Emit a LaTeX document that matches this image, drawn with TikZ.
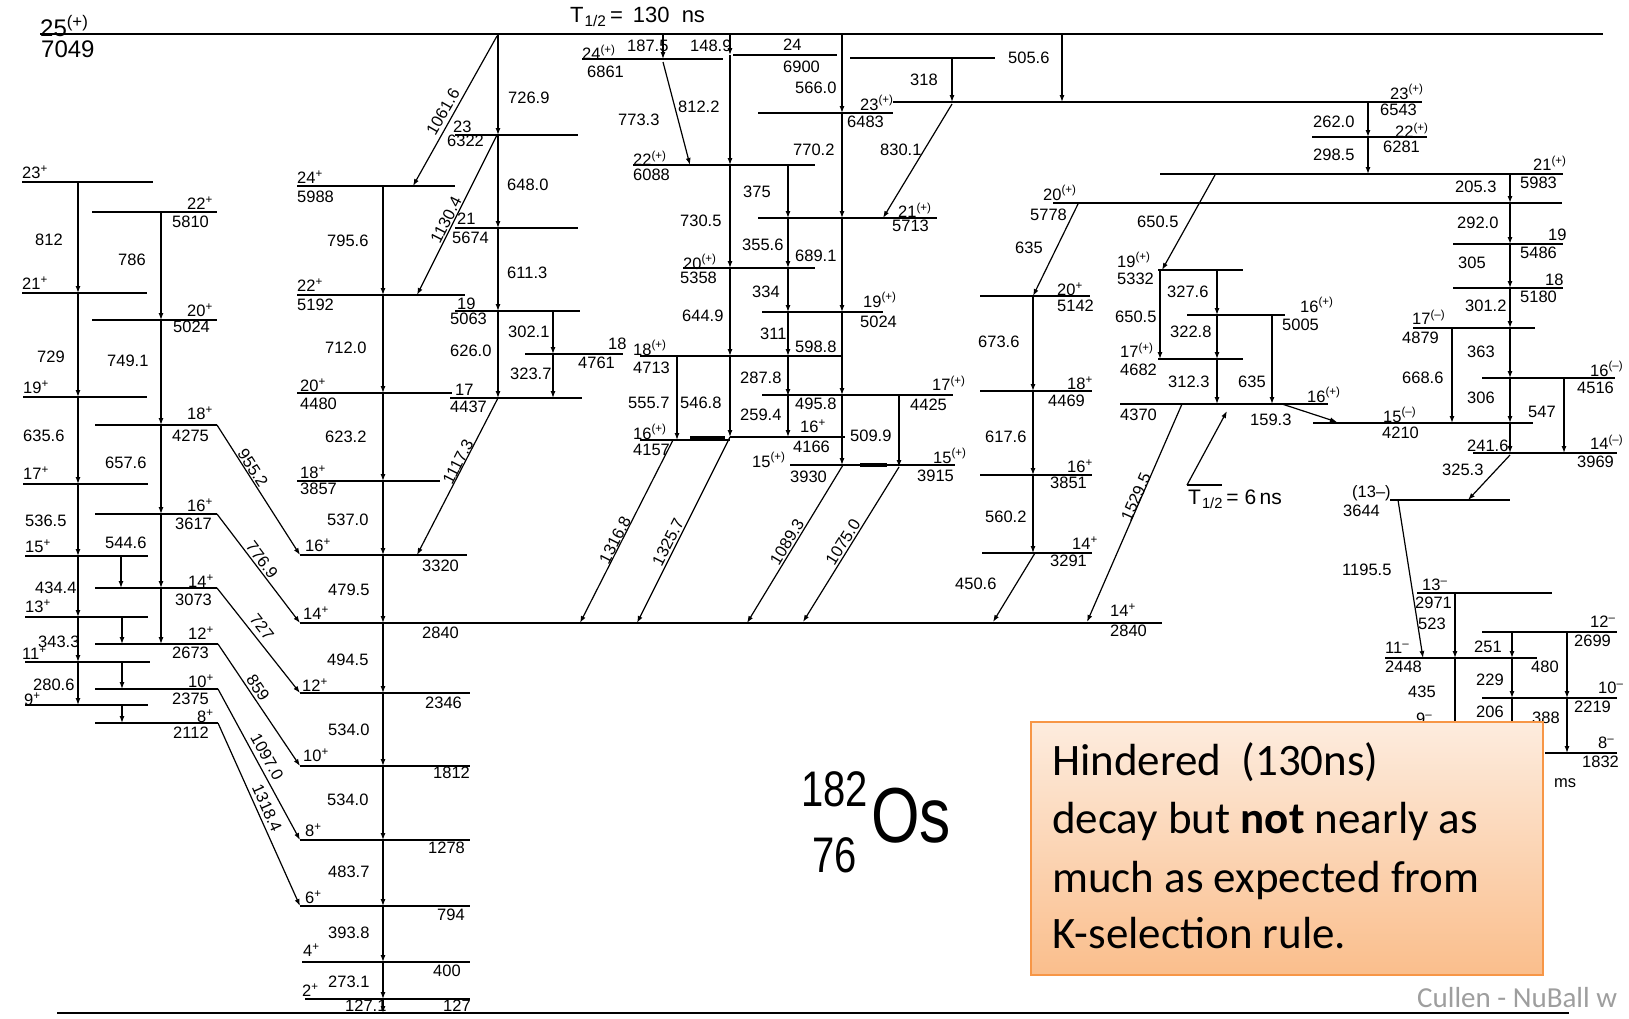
\documentclass[tikz,border=0pt]{standalone}
\usepackage{fontspec}
\setmainfont{Liberation Sans}
\newfontfamily\boxfont{Carlito}
\usetikzlibrary{arrows.meta}
\definecolor{boxtop}{RGB}{253,236,222}
\definecolor{boxbot}{RGB}{250,190,140}
\definecolor{boxline}{RGB}{247,150,70}
\newcounter{nc}
\newcommand\LV[3]{\draw[lvl] (#1,#3) -- (#2,#3);}
\newcommand\VT[3]{\draw[trn] (#1,#2) -- (#1,#3);}
\newcommand\DT[4]{\draw[trn] (#1,#2) -- (#3,#4);}
\newcommand\LB[3]{\stepcounter{nc}\node[lab] (n\arabic{nc}) at (#1,#2) {#3};}
\newcommand\RB[4]{\stepcounter{nc}\node[lab,anchor=center,rotate=#3] (n\arabic{nc}) at (#1,#2) {#4};}
\newcommand\upx[1]{\textsuperscript{#1}}
\tikzset{
  lvl/.style={line width=2pt},
  toplvl/.style={line width=2.6pt},
  trn/.style={line width=1.2pt,-{Latex[length=7pt,width=5pt]}},
  lab/.style={font=\fontsize{16.5}{18}\selectfont, inner sep=0pt, anchor=west},
  biglab/.style={font=\fontsize{24}{26}\selectfont, inner sep=0pt, anchor=west},
  boxtxt/.style={font=\boxfont\fontsize{45}{58}\selectfont, inner sep=0pt, anchor=base west},
}
\begin{document}
\begin{tikzpicture}[x=1pt,y=-1pt]
\useasboundingbox (0,0) rectangle (1629,1018);
\fill[white] (0,0) rectangle (1629,1018);

% ---------- top and ground levels
\draw[toplvl] (40,34) -- (1603,34);
\draw[toplvl] (57,1013) -- (1569,1013);
\node[biglab] (top1) at (40,26) {25\upx{(+)}};
\node[biglab] (top2) at (41,49) {7049};
\node[inner sep=0pt,anchor=west,font=\fontsize{22}{24}\selectfont] (thalf) at (570,17) {T\textsubscript{\kern1pt 1/2}\,=\ \,130\ \ ns};

% ---------- left odd band
\LV{22}{153}{182} \LV{22}{147}{293} \LV{23}{147}{397} \LV{23}{148}{484}
\LV{25}{148}{556} \LV{25}{148}{617} \LV{25}{150}{662} \LV{25}{148}{705}
\VT{78}{182}{293} \VT{78}{293}{397} \VT{78}{397}{484} \VT{78}{484}{556}
\VT{78}{556}{617} \VT{78}{617}{662} \VT{78}{662}{705}
% left even band
\LV{92}{217}{212} \LV{92}{217}{320} \LV{95}{217}{425} \LV{95}{217}{514}
\LV{95}{217}{588} \LV{95}{218}{644} \LV{95}{218}{689} \LV{95}{218}{723}
\VT{161}{212}{320} \VT{161}{320}{425} \VT{161}{425}{514} \VT{161}{514}{588} \VT{161}{588}{644}
\VT{121}{556}{588} \VT{122}{617}{644} \VT{122}{662}{689} \VT{122}{705}{723}
% diagonals to main band
\DT{217}{425}{300}{555} \DT{217}{514}{300}{623} \DT{217}{588}{300}{693}
\DT{218}{644}{300}{766} \DT{218}{689}{300}{840} \DT{218}{723}{300}{906}

\LB{22}{172}{23\upx{+}} \LB{35}{240}{812} \LB{22}{283}{21\upx{+}} \LB{37}{357}{729}
\LB{23}{387}{19\upx{+}} \LB{23}{436}{635.6} \LB{23}{473}{17\upx{+}} \LB{25}{521}{536.5}
\LB{25}{546}{15\upx{+}} \LB{35}{588}{434.4} \LB{25}{606}{13\upx{+}} \LB{38}{642}{343.3}
\LB{22}{653}{11\upx{+}} \LB{33}{685}{280.6} \LB{24}{699}{9\upx{+}}
\LB{187}{203}{22\upx{+}} \LB{172}{222}{5810} \LB{118}{260}{786}
\LB{187}{310}{20\upx{+}} \LB{173}{327}{5024} \LB{107}{361}{749.1}
\LB{187}{413}{18\upx{+}} \LB{172}{436}{4275} \LB{105}{463}{657.6}
\LB{187}{505}{16\upx{+}} \LB{175}{524}{3617} \LB{105}{543}{544.6}
\LB{188}{581}{14\upx{+}} \LB{175}{600}{3073}
\LB{188}{633}{12\upx{+}} \LB{172}{653}{2673}
\LB{188}{681}{10\upx{+}} \LB{172}{699}{2375}
\LB{197}{716}{8\upx{+}} \LB{173}{733}{2112}
\RB{253}{468}{-57}{955.2} \RB{262}{560}{-53}{776.9} \RB{262}{627}{-52}{727}
\RB{258}{688}{-56}{859} \RB{267}{757}{-61}{1097.0} \RB{267}{808}{-66}{1318.4}

% ---------- main ground band
\LV{297}{455}{186} \LV{297}{465}{295} \LV{297}{452}{393} \LV{297}{440}{481}
\LV{300}{467}{555} \LV{300}{1162}{623} \LV{300}{470}{693} \LV{300}{470}{766}
\LV{300}{470}{840} \LV{300}{470}{906} \LV{302}{470}{962} \LV{305}{470}{999}
\VT{383}{186}{295} \VT{383}{295}{393} \VT{383}{393}{481} \VT{383}{481}{555}
\VT{383}{555}{623} \VT{383}{623}{693} \VT{383}{693}{766} \VT{383}{766}{840}
\VT{383}{840}{906} \VT{383}{906}{962} \VT{383}{962}{999} \VT{383}{999}{1013}
\LB{297}{177}{24\upx{+}} \LB{297}{197}{5988} \LB{327}{241}{795.6}
\LB{297}{285}{22\upx{+}} \LB{297}{305}{5192} \LB{325}{348}{712.0}
\LB{300}{385}{20\upx{+}} \LB{300}{404}{4480} \LB{325}{437}{623.2}
\LB{300}{472}{18\upx{+}} \LB{300}{489}{3857} \LB{327}{520}{537.0}
\LB{305}{545}{16\upx{+}} \LB{422}{566}{3320} \LB{328}{590}{479.5}
\LB{303}{613}{14\upx{+}} \LB{422}{633}{2840} \LB{327}{660}{494.5}
\LB{302}{685}{12\upx{+}} \LB{425}{703}{2346} \LB{328}{730}{534.0}
\LB{303}{755}{10\upx{+}} \LB{433}{773}{1812} \LB{327}{800}{534.0}
\LB{305}{830}{8\upx{+}} \LB{428}{848}{1278} \LB{328}{872}{483.7}
\LB{305}{897}{6\upx{+}} \LB{437}{915}{794} \LB{328}{933}{393.8}
\LB{303}{950}{4\upx{+}} \LB{433}{971}{400} \LB{328}{982}{273.1}
\LB{302}{990}{2\upx{+}} \LB{345}{1006}{127.1} \LB{443}{1006}{127}

% ---------- upper band from 7049
\LV{455}{578}{135} \LV{455}{578}{228} \LV{455}{580}{311} \LV{450}{582}{398} \LV{525}{623}{354}
\VT{498}{34}{135} \VT{498}{135}{228} \VT{498}{228}{311} \VT{498}{311}{398}
\VT{553}{311}{354} \VT{553}{354}{398}
\DT{497}{36}{413}{186} \DT{497}{135}{417}{295} \DT{498}{398}{417}{555}
\RB{443}{112}{60}{1061.6} \RB{446}{220}{63}{1130.4} \RB{458}{462}{63}{1117.3}
\LB{508}{98}{726.9} \LB{453}{127}{23} \LB{447}{141}{6322}
\LB{507}{185}{648.0} \LB{457}{219}{21} \LB{452}{238}{5674}
\LB{507}{273}{611.3} \LB{457}{304}{19} \LB{450}{319}{5063}
\LB{508}{332}{302.1} \LB{450}{351}{626.0} \LB{608}{344}{18} \LB{578}{363}{4761}
\LB{510}{374}{323.7} \LB{455}{390}{17} \LB{450}{407}{4437}

% ---------- column 3
\LV{582}{723}{59} \LV{733}{837}{55} \LV{850}{995}{58} \LV{893}{1422}{102}
\LV{758}{893}{113} \LV{633}{815}{165} \LV{758}{937}{218} \LV{683}{815}{268}
\LV{762}{883}{312} \LV{640}{843}{356} \LV{762}{953}{395} \LV{640}{730}{440}
\LV{730}{845}{437} \LV{790}{955}{465}
\draw[line width=4pt] (690,438) -- (725,438);
\draw[line width=4pt] (860,465) -- (887,465);
\VT{663}{34}{59}
\VT{730}{34}{55} \VT{730}{55}{165} \VT{730}{165}{268} \VT{730}{268}{356} \VT{730}{356}{437}
\DT{663}{62}{690}{165}
\VT{677}{356}{440}
\VT{788}{165}{218} \VT{788}{218}{268} \VT{788}{268}{312} \VT{788}{312}{356}
\VT{788}{356}{396} \VT{788}{396}{437}
\VT{842}{34}{113} \VT{842}{113}{218} \VT{842}{218}{312} \VT{842}{312}{395} \VT{842}{395}{465}
\VT{899}{395}{467}
\VT{952}{58}{102} \DT{952}{104}{883}{218}
\VT{1062}{34}{102}
\DT{673}{440}{580}{623} \DT{730}{437}{637}{623} \DT{843}{465}{747}{623} \DT{899}{467}{803}{622}
\LB{582}{52}{24\upx{(+)}} \LB{587}{72}{6861} \LB{627}{46}{187.5} \LB{690}{46}{148.9}
\LB{783}{45}{24} \LB{783}{67}{6900} \LB{795}{88}{566.0}
\LB{618}{120}{773.3} \LB{678}{107}{812.2}
\LB{633}{158}{22\upx{(+)}} \LB{633}{175}{6088} \LB{793}{150}{770.2}
\LB{743}{192}{375} \LB{680}{221}{730.5} \LB{742}{245}{355.6} \LB{795}{256}{689.1}
\LB{683}{262}{20\upx{(+)}} \LB{680}{278}{5358} \LB{752}{292}{334} \LB{682}{316}{644.9}
\LB{760}{334}{311} \LB{795}{347}{598.8}
\LB{633}{348}{18\upx{(+)}} \LB{633}{368}{4713} \LB{740}{378}{287.8}
\LB{628}{403}{555.7} \LB{680}{403}{546.8} \LB{795}{404}{495.8} \LB{740}{415}{259.4}
\LB{633}{432}{16\upx{(+)}} \LB{633}{450}{4157}
\LB{800}{426}{16\upx{+}} \LB{793}{447}{4166}
\LB{752}{460}{15\upx{(+)}} \LB{790}{477}{3930}
\LB{860}{103}{23\upx{(+)}} \LB{847}{122}{6483} \LB{910}{80}{318} \LB{1008}{58}{505.6}
\LB{880}{150}{830.1} \LB{898}{210}{21\upx{(+)}} \LB{892}{226}{5713}
\LB{863}{300}{19\upx{(+)}} \LB{860}{322}{5024}
\LB{932}{383}{17\upx{(+)}} \LB{910}{405}{4425} \LB{850}{436}{509.9}
\LB{933}{456}{15\upx{(+)}} \LB{917}{476}{3915}
\RB{615}{540}{63}{1316.8} \RB{668}{542}{63}{1325.7} \RB{787}{542}{59}{1089.3} \RB{843}{542}{58}{1075.0}

% ---------- column 4
\LV{1053}{1562}{203} \LV{1160}{1563}{174} \LV{980}{1090}{296} \LV{980}{1092}{391}
\LV{980}{1092}{475} \LV{982}{1092}{553} \LV{1158}{1243}{270} \LV{1187}{1285}{315}
\LV{1158}{1243}{359} \LV{1120}{1328}{404}
\DT{1078}{204}{1033}{296}
\VT{1033}{296}{391} \VT{1033}{391}{475} \VT{1033}{475}{553}
\DT{1035}{553}{993}{622}
\DT{1215}{175}{1162}{270}
\VT{1160}{270}{359} \VT{1217}{270}{315} \VT{1217}{315}{359} \VT{1217}{359}{404}
\VT{1272}{315}{404}
\DT{1182}{404}{1087}{622}
\DT{1282}{404}{1337}{422}
\draw[line width=1.2pt] (1187,485) -- (1222,485);
\DT{1187}{485}{1227}{411}
\LB{1043}{193}{20\upx{(+)}} \LB{1030}{215}{5778} \LB{1015}{248}{635} \LB{1137}{222}{650.5}
\LB{1057}{289}{20\upx{+}} \LB{1057}{306}{5142} \LB{978}{342}{673.6}
\LB{1067}{383}{18\upx{+}} \LB{1048}{401}{4469} \LB{985}{437}{617.6}
\LB{1067}{466}{16\upx{+}} \LB{1050}{483}{3851} \LB{985}{517}{560.2}
\LB{1072}{543}{14\upx{+}} \LB{1050}{561}{3291} \LB{955}{584}{450.6}
\LB{1110}{610}{14\upx{+}} \LB{1110}{631}{2840}
\LB{1117}{260}{19\upx{(+)}} \LB{1117}{279}{5332} \LB{1167}{292}{327.6}
\LB{1115}{317}{650.5} \LB{1170}{332}{322.8}
\LB{1300}{305}{16\upx{(+)}} \LB{1282}{325}{5005}
\LB{1120}{350}{17\upx{(+)}} \LB{1120}{370}{4682} \LB{1168}{382}{312.3} \LB{1238}{382}{635}
\LB{1307}{395}{16\upx{(+)}} \LB{1120}{415}{4370} \LB{1250}{420}{159.3}
\RB{1136}{497}{66}{1529.5}
\node[inner sep=0pt,anchor=west,font=\fontsize{21}{23}\selectfont] (thalf2) at (1188,499) {T\textsubscript{\kern1pt 1/2}\,= 6\,ns};

% ---------- right band
\LV{1312}{1427}{137} \LV{1453}{1563}{244} \LV{1453}{1563}{288} \LV{1413}{1535}{328}
\LV{1482}{1615}{378} \LV{1313}{1533}{423} \LV{1473}{1617}{453} \LV{1390}{1510}{500}
\LV{1417}{1552}{593} \LV{1482}{1617}{632} \LV{1385}{1537}{658} \LV{1482}{1617}{698}
\LV{1545}{1617}{753}
\VT{1368}{102}{137} \VT{1368}{137}{174}
\VT{1510}{174}{203} \VT{1510}{203}{244} \VT{1510}{244}{288} \VT{1510}{288}{328}
\VT{1510}{328}{378} \VT{1510}{378}{423} \VT{1510}{423}{453}
\VT{1452}{328}{423} \VT{1564}{378}{453}
\DT{1510}{455}{1468}{500}
\DT{1398}{500}{1423}{658}
\VT{1455}{593}{658} \draw[line width=1.2pt] (1455,658) -- (1455,740);
\VT{1512}{632}{658} \VT{1512}{658}{698} \draw[line width=1.2pt] (1512,698) -- (1512,740);
\VT{1567}{632}{698} \VT{1567}{698}{753}
\LB{1390}{92}{23\upx{(+)}} \LB{1380}{110}{6543} \LB{1313}{122}{262.0}
\LB{1395}{130}{22\upx{(+)}} \LB{1383}{147}{6281} \LB{1313}{155}{298.5}
\LB{1533}{163}{21\upx{(+)}} \LB{1520}{183}{5983} \LB{1455}{187}{205.3}
\LB{1457}{223}{292.0} \LB{1548}{235}{19} \LB{1520}{253}{5486}
\LB{1458}{263}{305} \LB{1545}{280}{18} \LB{1520}{297}{5180}
\LB{1465}{306}{301.2} \LB{1412}{317}{17\upx{(–)}} \LB{1402}{338}{4879}
\LB{1467}{352}{363} \LB{1402}{378}{668.6}
\LB{1590}{369}{16\upx{(–)}} \LB{1577}{388}{4516} \LB{1467}{398}{306}
\LB{1383}{415}{15\upx{(–)}} \LB{1382}{433}{4210} \LB{1528}{412}{547}
\LB{1467}{446}{241.6} \LB{1590}{442}{14\upx{(–)}} \LB{1577}{462}{3969}
\LB{1442}{470}{325.3} \LB{1352}{493}{(13–)} \LB{1343}{511}{3644}
\LB{1342}{570}{1195.5}
\LB{1422}{585}{13\upx{–}} \LB{1415}{603}{2971} \LB{1418}{624}{523}
\LB{1590}{622}{12\upx{–}} \LB{1574}{641}{2699}
\LB{1385}{648}{11\upx{–}} \LB{1385}{667}{2448} \LB{1474}{647}{251} \LB{1531}{667}{480}
\LB{1476}{680}{229} \LB{1408}{692}{435}
\LB{1598}{688}{10\upx{–}} \LB{1574}{707}{2219}
\LB{1476}{712}{206} \LB{1532}{718}{388} \LB{1416}{719}{9\upx{–}}
\LB{1598}{743}{8\upx{–}} \LB{1582}{762}{1832} \LB{1554}{783}{ms}

% ---------- nucleus label
\node[inner sep=0pt,anchor=west,font=\fontsize{50}{52}\selectfont] (mass) at (801,789) {\scalebox{0.8}[1]{182}};
\node[inner sep=0pt,anchor=west,font=\fontsize{50}{52}\selectfont] (zz) at (812,855) {\scalebox{0.8}[1]{76}};
\node[inner sep=0pt,anchor=west,font=\fontsize{78}{80}\selectfont] (os) at (871,816) {\scalebox{0.8}[1]{Os}};

% ---------- comment box
\path[draw=boxline,line width=1.5pt,top color=boxtop,bottom color=boxbot]
  (1031,722) rectangle (1543,975);
\node[boxtxt] (b1) at (1052,775) {Hindered\ \ (130ns)};
\node[boxtxt] (b2) at (1052,833) {decay but \textbf{not} nearly as};
\node[boxtxt] (b3) at (1052,892) {much as expected from};
\node[boxtxt] (b4) at (1052,948) {K-selection rule.};
\node[inner sep=0pt,anchor=base west,font=\boxfont\fontsize{29}{32}\selectfont,text=black!38] (foot) at (1417,1007) {Cullen - NuBall w};
\end{tikzpicture}
\end{document}
